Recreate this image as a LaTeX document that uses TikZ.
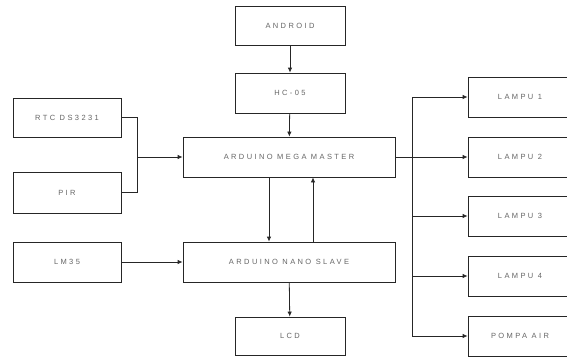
\documentclass[tikz,border=0pt]{standalone}
\usepackage{fontspec}
\setmainfont{Liberation Sans}[LetterSpace=32]
\usetikzlibrary{arrows.meta,calc}
\begin{document}
\begin{tikzpicture}[x=1pt,y=-1pt,
  blk/.style={draw=black!85,line width=0.8pt,fill=white,inner sep=0pt,
    font=\fontsize{7.5}{9}\selectfont,text=black!60},
  sbox/.style={blk,minimum width=110pt,minimum height=39pt},
  wbox/.style={blk,minimum width=212pt,minimum height=40pt},
  rbox/.style={blk,minimum width=104pt,minimum height=40pt},
  lnk/.style={draw=black!85,line width=0.8pt},
  arr/.style={lnk,-{Latex[length=5pt,width=4.5pt]}}]
\useasboundingbox (0,0) rectangle (567,356);
% nodes
\node[sbox] (top) at (290,26) {ANDROID};
\node[sbox,minimum height=40pt] (hc) at (290,93) {HC-05};
\node[sbox,minimum width=108pt] (l1) at (67,117.5) {RTC DS3231};
\node[sbox,minimum width=108pt,minimum height=41pt] (l2) at (67,192.5) {PIR};
\node[sbox,minimum width=108pt,minimum height=40pt] (l3) at (67,262) {LM35};
\node[wbox] (mst) at (289,157) {ARDUINO MEGA MASTER};
\node[wbox] (slv) at (289,262) {ARDUINO NANO SLAVE};
\node[sbox,minimum height=38pt] (lcd) at (290,336) {LCD};
\node[rbox] (r1) at (520,97) {LAMPU 1};
\node[rbox] (r2) at (520,157) {LAMPU 2};
\node[rbox] (r3) at (520,216) {LAMPU 3};
\node[rbox] (r4) at (520,276) {LAMPU 4};
\node[rbox] (r5) at (520,336) {POMPA AIR};
% coordinates
\coordinate (jl) at (137,157);
\coordinate (b1) at (412,97);
\coordinate (b2) at (412,157);
\coordinate (b3) at (412,216);
\coordinate (b4) at (412,276);
\coordinate (b5) at (412,336);
% connectors
\draw[arr] (top) -- (hc);
\draw[arr] (hc) -- (mst);
\draw[lnk] (l1.east) -| (jl);
\draw[lnk] (l2.east) -| (jl);
\draw[arr] (jl) -- (mst.west);
\draw[arr] (l3.east) -- (slv.west);
\draw[arr] ($(mst.south)+(-20,0)$) -- ($(slv.north)+(-20,0)$);
\draw[arr] ($(slv.north)+(24,0)$) -- ($(mst.south)+(24,0)$);
\draw[arr] (slv) -- (lcd);
\draw[lnk] (mst.east) -- (b2);
\draw[lnk] (b1) -- (b5);
\foreach \i in {1,...,5}{\draw[arr] (b\i) -- (r\i.west);}
\end{tikzpicture}
\end{document}
